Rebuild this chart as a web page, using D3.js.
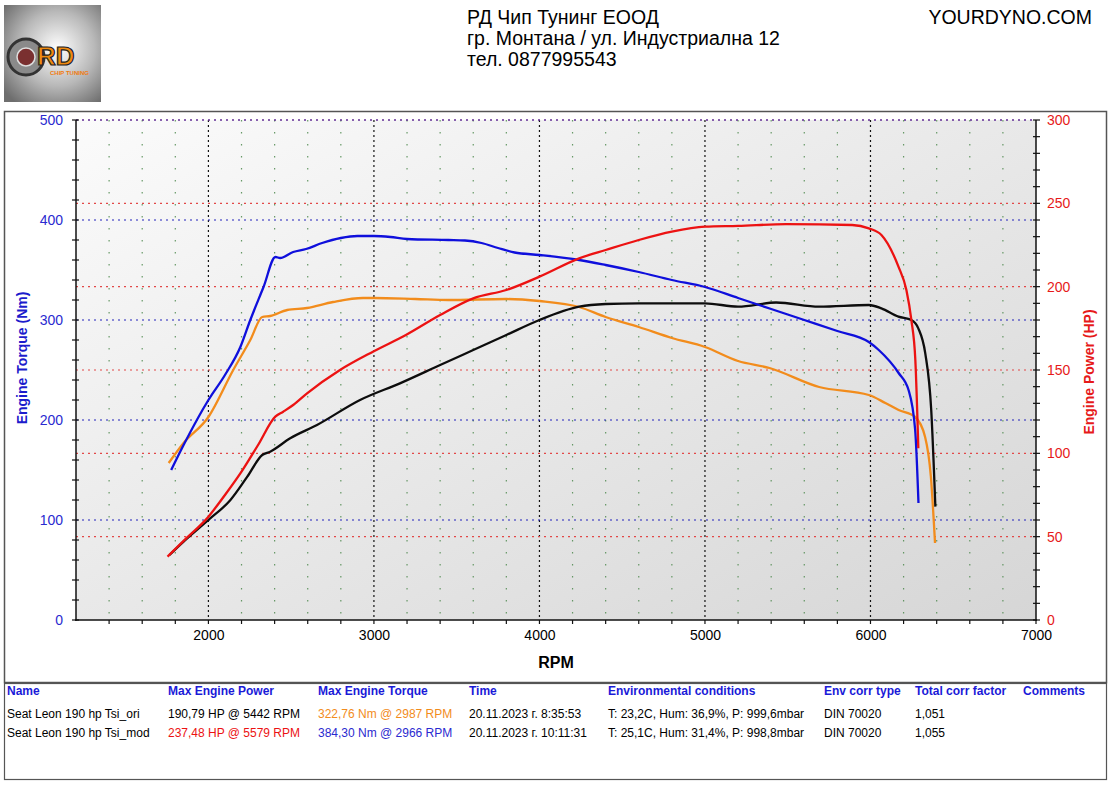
<!DOCTYPE html>
<html>
<head>
<meta charset="utf-8">
<script src="https://cdn.jsdelivr.net/npm/d3@7"></script>
<style>
  body { margin: 0; background: white; }
  svg { font-family: Arial, "Liberation Sans", sans-serif; }
</style>
</head>
<body>
<svg id="chart"></svg>
<script>
// curves
let modTorqueRpm = [1775, 1850, 2000, 2100, 2193, 2253, 2333, 2405, 2433, 2512, 2590, 2687, 2800, 2900, 3000, 3100, 3200, 3450, 3550, 3650, 3750, 3850, 4000, 4240, 4400, 4600, 4800, 5000, 5200, 5400, 5600, 5800, 5990, 6050, 6170, 6230, 6270, 6290];
let modTorque = [150, 175, 220, 245, 273, 300, 333, 363, 362, 368, 371, 377, 382, 384, 384, 383, 381, 380, 379.5, 377, 372, 367.5, 365, 360, 355, 348, 340, 333, 322, 311, 300, 289, 278, 270, 247, 230, 190, 117];

let oriTorqueRpm = [1760, 1850, 2000, 2150, 2253, 2325, 2373, 2476, 2596, 2753, 2934, 3000, 3250, 3450, 3800, 4000, 4240, 4400, 4600, 4800, 5000, 5200, 5390, 5690, 5990, 6090, 6170, 6270, 6330, 6365, 6390];
let oriTorque = [157, 177, 203, 250, 280, 303, 304, 310, 312, 318, 322, 322, 321, 320, 321, 319, 313, 303, 293, 282, 273, 259, 252, 233, 225, 217, 210, 203, 183, 143, 77];

let modPowerRpm = [1753, 1850, 2000, 2100, 2200, 2300, 2404, 2452, 2512, 2596, 2795, 2994, 3193, 3400, 3600, 3800, 4000, 4240, 4400, 4600, 4800, 5000, 5200, 5490, 5890, 5990, 6066, 6169, 6217, 6247, 6271, 6289];
let modPower = [38, 47.5, 62, 75, 89, 105, 122, 125, 129, 136, 150, 161, 171, 183, 193, 198, 206, 217, 222, 228, 233, 236, 236.5, 237.5, 237, 235, 231, 212, 198, 180, 156, 103];

let oriPowerRpm = [1765, 1850, 2000, 2133, 2235, 2325, 2373, 2494, 2656, 2916, 3157, 3400, 3600, 3800, 4000, 4240, 4400, 4600, 4800, 5000, 5200, 5430, 5690, 5990, 6066, 6169, 6247, 6289, 6331, 6367, 6392];
let oriPower = [39, 47, 60, 72, 86, 99, 101, 109, 117, 132, 142, 153, 162, 171, 180, 188, 189.6, 190, 190, 190, 188, 190.5, 188, 189, 187, 182, 180, 175, 160, 126, 68];

let rpmTicks = [2000, 3000, 4000, 5000, 6000, 7000];
let torqueTicks = [0, 100, 200, 300, 400, 500];
let powerTicks = [0, 50, 100, 150, 200, 250, 300];

let headerLines = ['РД Чип Тунинг ЕООД', 'гр. Монтана / ул. Индустриална 12', 'тел. 0877995543'];
let siteName = 'YOURDYNO.COM';

let tableHeaders = ['Name', 'Max Engine Power', 'Max Engine Torque', 'Time', 'Environmental conditions', 'Env corr type', 'Total corr factor', 'Comments'];
let tableRows = [
  ['Seat Leon 190 hp Tsi_ori', '190,79 HP @ 5442 RPM', '322,76 Nm @ 2987 RPM', '20.11.2023 г. 8:35:53', 'T: 23,2C, Hum: 36,9%, P: 999,6mbar', 'DIN 70020', '1,051', ''],
  ['Seat Leon 190 hp Tsi_mod', '237,48 HP @ 5579 RPM', '384,30 Nm @ 2966 RPM', '20.11.2023 г. 10:11:31', 'T: 25,1C, Hum: 31,4%, P: 998,8mbar', 'DIN 70020', '1,055', '']
];

function createGraph() {
  let width = 1114, height = 786;
  let plot = { left: 76, right: 1036, top: 120, bottom: 620 };

  let svg = d3.select('#chart');
  svg.selectAll('*').remove();
  svg.attr('width', width).attr('height', height);

  let defs = svg.append('defs');
  let bg = defs.append('linearGradient').attr('id', 'bg')
    .attr('x1', '0%').attr('y1', '0%').attr('x2', '100%').attr('y2', '100%');
  bg.append('stop').attr('offset', '0%').attr('stop-color', '#fbfbfb');
  bg.append('stop').attr('offset', '100%').attr('stop-color', '#d6d6d6');

  let logoBg = defs.append('radialGradient').attr('id', 'logobg').attr('cx', '55%').attr('cy', '45%').attr('r', '70%');
  logoBg.append('stop').attr('offset', '0%').attr('stop-color', '#ffffff');
  logoBg.append('stop').attr('offset', '55%').attr('stop-color', '#b8b8b8');
  logoBg.append('stop').attr('offset', '100%').attr('stop-color', '#6e6e6e');

  // logo
  let logo = svg.append('g').attr('transform', 'translate(4,5)');
  logo.append('rect').attr('width', 97).attr('height', 97).attr('fill', 'url(#logobg)');
  logo.append('circle').attr('cx', 22).attr('cy', 52).attr('r', 18).attr('fill', '#8a8a8a').attr('stroke', '#333').attr('stroke-width', 3);
  logo.append('circle').attr('cx', 22).attr('cy', 52).attr('r', 9).attr('fill', '#7a3030').attr('stroke', '#ddd').attr('stroke-width', 1.5);
  logo.append('text').attr('x', 33).attr('y', 60).text('RD')
    .style('font-size', '26px').style('font-weight', 'bold').style('fill', '#f08a10')
    .style('stroke', '#222').style('stroke-width', 1.2);
  logo.append('text').attr('x', 46).attr('y', 70).text('CHIP TUNING')
    .style('font-size', '6px').style('font-weight', 'bold').style('fill', '#f07a10');

  // header
  svg.append('g').selectAll('text')
    .data(headerLines)
    .enter()
    .append('text')
    .attr('x', 467)
    .attr('y', (d, i) => 24 + i * 21)
    .text(d => d)
    .style('font-size', '19.5px')
    .style('fill', '#000');

  svg.append('text')
    .attr('x', 1092).attr('y', 24)
    .text(siteName)
    .style('text-anchor', 'end')
    .style('font-size', '19.5px');

  // frames
  svg.append('rect').attr('x', 4.5).attr('y', 111.5).attr('width', 1102).attr('height', 571)
    .attr('fill', 'white').attr('stroke', '#555').attr('stroke-width', 1.5);
  svg.append('rect').attr('x', 4.5).attr('y', 683.5).attr('width', 1102).attr('height', 96)
    .attr('fill', 'white').attr('stroke', '#555').attr('stroke-width', 1.2);

  // scales
  let xScale = d3.scaleLinear().domain([1200, 7000]).range([plot.left, plot.right]);
  let yTorque = d3.scaleLinear().domain([0, 500]).range([plot.bottom, plot.top]);
  let yPower = d3.scaleLinear().domain([0, 300]).range([plot.bottom, plot.top]);

  svg.append('rect')
    .attr('x', plot.left).attr('y', plot.top)
    .attr('width', plot.right - plot.left).attr('height', plot.bottom - plot.top)
    .attr('fill', 'url(#bg)');

  // grid
  let grid = svg.append('g');
  let minorRpm = d3.range(1400, 7000, 200).filter(d => d % 1000 !== 0);
  grid.selectAll('.minor')
    .data(minorRpm)
    .enter()
    .append('line')
    .attr('x1', d => xScale(d)).attr('x2', d => xScale(d))
    .attr('y1', plot.top).attr('y2', plot.bottom)
    .attr('stroke', '#4f8a4f').attr('stroke-width', 1.2).attr('stroke-dasharray', '1.5,10.5')
    .attr('opacity', 0.85);
  grid.selectAll('.major')
    .data(rpmTicks.filter(d => d < 7000))
    .enter()
    .append('line')
    .attr('x1', d => xScale(d)).attr('x2', d => xScale(d))
    .attr('y1', plot.top).attr('y2', plot.bottom)
    .attr('stroke', '#111').attr('stroke-width', 1.2).attr('stroke-dasharray', '2,3');
  grid.selectAll('.pgrid')
    .data(powerTicks.filter(d => d > 0))
    .enter()
    .append('line')
    .attr('x1', plot.left).attr('x2', plot.right)
    .attr('y1', d => yPower(d)).attr('y2', d => yPower(d))
    .attr('stroke', '#e24848').attr('stroke-width', 1.2).attr('stroke-dasharray', '2,4');
  grid.selectAll('.tgrid')
    .data(torqueTicks.filter(d => d > 0))
    .enter()
    .append('line')
    .attr('x1', plot.left).attr('x2', plot.right)
    .attr('y1', d => yTorque(d)).attr('y2', d => yTorque(d))
    .attr('stroke', '#2222bb').attr('stroke-width', 1.2).attr('stroke-dasharray', '2,4');

  // axes
  let tickFont = 'Arial, "Liberation Sans", sans-serif';
  let leftAxis = svg.append('g')
    .attr('transform', `translate(${plot.left}, 0)`)
    .call(d3.axisLeft(yTorque).tickValues(torqueTicks).tickFormat(d3.format('d')).tickSize(0).tickPadding(13));
  leftAxis.select('.domain').remove();
  leftAxis.selectAll('text').style('font-size', '14px').style('fill', '#2a2ad0').style('font-family', tickFont);

  let rightAxis = svg.append('g')
    .attr('transform', `translate(${plot.right}, 0)`)
    .call(d3.axisRight(yPower).tickValues(powerTicks).tickFormat(d3.format('d')).tickSize(0).tickPadding(11));
  rightAxis.select('.domain').remove();
  rightAxis.selectAll('text').style('font-size', '14px').style('fill', '#e61a1a').style('font-family', tickFont);

  let bottomAxis = svg.append('g')
    .attr('transform', `translate(0, ${plot.bottom})`)
    .call(d3.axisBottom(xScale).tickValues(rpmTicks).tickFormat(d3.format('d')).tickSize(0).tickPadding(10));
  bottomAxis.select('.domain').remove();
  bottomAxis.selectAll('text').style('font-size', '14px').style('fill', '#000').style('font-family', tickFont);

  let axisLines = svg.append('g').attr('stroke', '#111').attr('stroke-width', 1.5);
  axisLines.append('line').attr('x1', plot.left).attr('x2', plot.left).attr('y1', plot.top).attr('y2', plot.bottom + 1);
  axisLines.append('line').attr('x1', plot.right).attr('x2', plot.right).attr('y1', plot.top).attr('y2', plot.bottom + 1);
  axisLines.append('line').attr('x1', plot.left - 1).attr('x2', plot.right + 1).attr('y1', plot.bottom).attr('y2', plot.bottom);

  axisLines.selectAll('.lt')
    .data(d3.range(0, 501, 20))
    .enter()
    .append('line')
    .attr('x1', plot.left - 4).attr('x2', plot.left + 3)
    .attr('y1', d => yTorque(d)).attr('y2', d => yTorque(d))
    .attr('stroke-width', 1.2);
  axisLines.selectAll('.rt')
    .data(d3.range(0, 301, 10))
    .enter()
    .append('line')
    .attr('x1', plot.right - 3).attr('x2', plot.right + 4)
    .attr('y1', d => yPower(d)).attr('y2', d => yPower(d))
    .attr('stroke-width', 1.2);
  axisLines.selectAll('.bt')
    .data(d3.range(1400, 7001, 200))
    .enter()
    .append('line')
    .attr('x1', d => xScale(d)).attr('x2', d => xScale(d))
    .attr('y1', plot.bottom).attr('y2', plot.bottom + 4)
    .attr('stroke-width', 1.2);

  // axis titles
  svg.append('text')
    .attr('x', 556).attr('y', 668)
    .text('RPM')
    .style('text-anchor', 'middle').style('font-size', '16px').style('font-weight', 'bold');

  svg.append('text')
    .attr('transform', 'translate(27, 358) rotate(-90)')
    .text('Engine Torque (Nm)')
    .style('text-anchor', 'middle').style('font-size', '14px').style('font-weight', 'bold').style('fill', '#1c1ccc');

  svg.append('text')
    .attr('transform', 'translate(1094, 372) rotate(-90)')
    .text('Engine Power (HP)')
    .style('text-anchor', 'middle').style('font-size', '14px').style('font-weight', 'bold').style('fill', '#e61a1a');

  // curves
  let series = [
    { rpm: oriTorqueRpm, val: oriTorque, y: yTorque, color: '#f28c1c' },
    { rpm: oriPowerRpm, val: oriPower, y: yPower, color: '#0d0d0d' },
    { rpm: modTorqueRpm, val: modTorque, y: yTorque, color: '#0f0fdc' },
    { rpm: modPowerRpm, val: modPower, y: yPower, color: '#ec1212' }
  ];

  series.forEach(s => {
    let pts = s.rpm.map((r, i) => [r, s.val[i]]);
    let line = d3.line()
      .x(d => xScale(d[0]))
      .y(d => s.y(d[1]))
      .curve(d3.curveMonotoneX);
    svg.append('path')
      .datum(pts)
      .attr('d', line)
      .attr('fill', 'none')
      .attr('stroke', s.color)
      .attr('stroke-width', 2.3)
      .attr('stroke-linejoin', 'round');
  });

  // results table
  let colX = [7, 168, 318, 469, 608, 824, 915, 1023];
  let table = svg.append('g').style('font-size', '12px');
  table.selectAll('.th')
    .data(tableHeaders)
    .enter()
    .append('text')
    .attr('x', (d, i) => colX[i]).attr('y', 695)
    .text(d => d)
    .style('font-weight', 'bold').style('fill', '#1a1ad8');

  let cellColors = [
    ['#000', '#000', '#f28c1c', '#000', '#000', '#000', '#000', '#000'],
    ['#000', '#ec1212', '#2a2ad0', '#000', '#000', '#000', '#000', '#000']
  ];
  tableRows.forEach((row, r) => {
    table.selectAll('.row' + r)
      .data(row)
      .enter()
      .append('text')
      .attr('x', (d, i) => colX[i]).attr('y', 718 + r * 19)
      .text(d => d)
      .style('fill', (d, i) => cellColors[r][i]);
  });
}

createGraph();
</script>
</body>
</html>
